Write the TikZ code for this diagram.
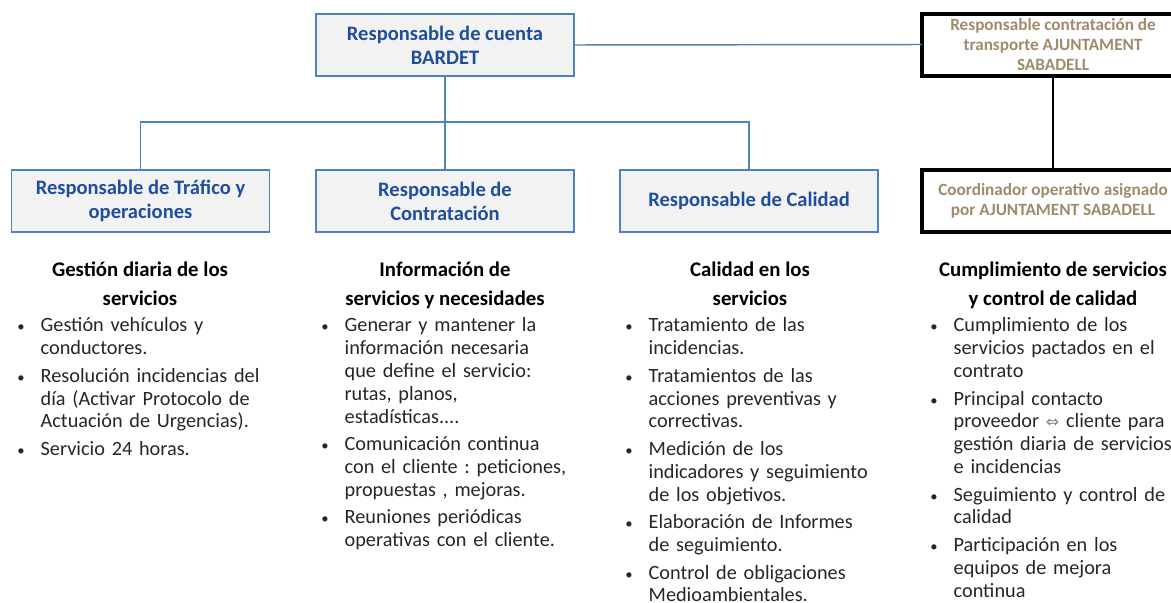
\documentclass[tikz,border=0pt]{standalone}
\usepackage{fontspec}
\setmainfont{Carlito}
\newfontfamily\symfont{DejaVu Sans}
\usepackage{enumitem}
\usetikzlibrary{calc}
\frenchspacing

\definecolor{boxblue}{HTML}{4F81BD}
\definecolor{boxfill}{HTML}{F2F2F2}
\definecolor{titleblue}{HTML}{1F4E9F}
\definecolor{tantext}{HTML}{A08A6C}
\definecolor{bodytext}{HTML}{262626}

\newcommand{\titlefont}{\fontsize{15.4}{18}\selectfont\bfseries}
\newcommand{\extfont}{\fontsize{12.9}{15}\selectfont\bfseries}
\newcommand{\bodyfont}{\fontsize{15.2}{17.1}\selectfont}
\newcommand{\headfont}{\fontsize{15.6}{21.75}\selectfont\bfseries}
\setlist[itemize]{label={\fontsize{11}{11}\selectfont\textbullet},leftmargin=20pt,labelsep=12pt,itemsep=3.6pt,parsep=0pt,topsep=0pt,partopsep=0pt}

\begin{document}
\begin{tikzpicture}[x=0.75pt,y=-0.75pt,every node/.style={outer sep=0pt}]
\tikzstyle{bluebox}=[draw=boxblue,line width=1.1pt,fill=boxfill,text=titleblue,align=center,font=\titlefont,minimum width=193.5pt,minimum height=46.5pt,inner sep=0pt]
\tikzstyle{blackbox}=[draw=black,line width=3pt,fill=white,text=tantext,align=center,font=\extfont,minimum width=196.5pt,minimum height=46.5pt,inner sep=0pt]
\tikzstyle{conn}=[draw=boxblue,line width=1.1pt]
\tikzstyle{head}=[align=center,font=\headfont,inner sep=0pt,anchor=north]
\tikzstyle{list}=[text width=200pt,align=left,font=\bodyfont,text=bodytext,inner sep=0pt,anchor=north west]

\useasboundingbox (0,0) rectangle (1171,603);
\clip (0,0) rectangle (1171,603);

% top level
\node (acct_node) [bluebox] at (445,45) {Responsable de cuenta\\BARDET};
\node (ext_node) [blackbox] at (1053,44.5) {Responsable contratación de\\transporte AJUNTAMENT\\SABADELL};

% second level
\node (traf_node) [bluebox] at (140.5,201) {Responsable de Tráfico y\\operaciones};
\node (cont_node) [bluebox] at (445,201) {Responsable de\\Contratación};
\node (qual_node) [bluebox] at (749,201) {Responsable de Calidad};
\node (coord_node) [blackbox] at (1053,201) {Coordinador operativo asignado\\por AJUNTAMENT SABADELL};

% connectors
\draw [conn] (acct_node.south) -- (cont_node.north);
\draw [conn] (acct_node.south) -- ++(0,46) -| (traf_node.north);
\draw [conn] (acct_node.south) -- ++(0,46) -| (qual_node.north);
\draw [conn] (acct_node.east) -- (ext_node.west);
\draw [line width=1.1pt] (ext_node.south) -- (coord_node.north);

% headings
\node (traf_head) [head] at (140,262) {Gestión diaria de los\\servicios};
\node (cont_head) [head] at (445,262) {Información de\\servicios y necesidades};
\node (qual_head) [head] at (750,262) {Calidad en los\\servicios};
\node (coord_head) [head] at (1053,262) {Cumplimiento de servicios\\y control de calidad};

% task lists
\node (traf_list) [list] at (14,309) {%
\begin{itemize}
\item Gestión vehículos y\\conductores.
\item Resolución incidencias del\\día (Activar Protocolo de\\Actuación de Urgencias).
\item Servicio 24 horas.
\end{itemize}};
\node (cont_list) [list] at (318,309) {%
\begin{itemize}
\item Generar y mantener la\\información necesaria\\que define el servicio:\\rutas, planos,\\estadísticas....
\item Comunicación continua\\con el cliente : peticiones,\\propuestas , mejoras.
\item Reuniones periódicas\\operativas con el cliente.
\end{itemize}};
\node (qual_list) [list] at (622,309) {%
\begin{itemize}
\item Tratamiento de las\\incidencias.
\item Tratamientos de las\\acciones preventivas y\\correctivas.
\item Medición de los\\indicadores y seguimiento\\de los objetivos.
\item Elaboración de Informes\\de seguimiento.
\item Control de obligaciones\\Medioambientales.
\end{itemize}};
\node (coord_list) [list] at (927,309) {%
\begin{itemize}
\item Cumplimiento de los\\servicios pactados en el\\contrato
\item Principal contacto\\proveedor {\symfont\fontsize{12}{12}\selectfont\color{gray}⇔} cliente para\\gestión diaria de servicios\\e incidencias
\item Seguimiento y control de\\calidad
\item Participación en los\\equipos de mejora\\continua
\end{itemize}};

\end{tikzpicture}
\end{document}
